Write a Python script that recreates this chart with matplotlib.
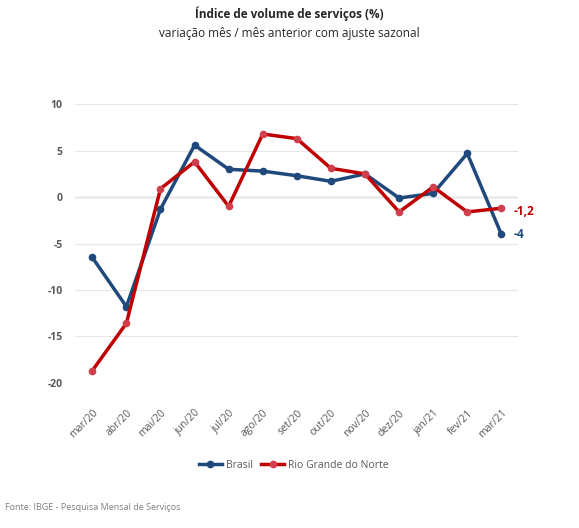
import matplotlib
matplotlib.use("Agg")
import matplotlib.pyplot as plt

plt.rcParams['font.family'] = ['Open Sans', 'DejaVu Sans']
plt.rcParams['axes.unicode_minus'] = False

meses = ["mar/20", "abr/20", "mai/20", "jun/20", "jul/20", "ago/20", "set/20",
         "out/20", "nov/20", "dez/20", "jan/21", "fev/21", "mar/21"]
brasil = [-6.5, -11.8, -1.3, 5.6, 3.0, 2.8, 2.3, 1.7, 2.5, -0.1, 0.4, 4.7, -4.0]
rn = [-18.7, -13.6, 0.9, 3.8, -1.0, 6.8, 6.3, 3.1, 2.5, -1.6, 1.1, -1.6, -1.2]
rotulos = ["-4", "-1,2"]

azul = "#1f497d"
vermelho = "#c00000"

fig = plt.figure(figsize=(5.79, 5.28), dpi=100)
ax = fig.add_axes([75.25 / 579, 1 - 382.7 / 528, (518.4 - 75.25) / 579, (382.7 - 104.3) / 528])

x = list(range(len(meses)))
ax.plot(x, brasil, color=azul, lw=2.5, marker="o", ms=4.5, mfc=azul, mec=azul, label="Brasil", zorder=3)
ax.plot(x, rn, color=vermelho, lw=2.5, marker="o", ms=4.5, mfc="#d0404c", mec="#d0404c",
        label="Rio Grande do Norte", zorder=3)

ax.set_xlim(-0.5, len(meses) - 0.5)
ax.set_ylim(-20, 10)
ax.set_yticks([-20, -15, -10, -5, 0, 5, 10])
ax.set_xticks(x)
ax.set_xticklabels(meses, rotation=45, ha="right", rotation_mode="anchor")
ax.tick_params(length=0, colors="#595959", labelsize=7.5)
ax.tick_params(axis="y", pad=9)
ax.tick_params(axis="x", pad=18)
for lbl in ax.get_yticklabels():
    lbl.set_fontweight("bold")

ax.grid(axis="y", color="#e6e6e6", lw=0.8, zorder=0)
ax.axhline(0, color="#bfbfbf", lw=1, zorder=1)
for s in ax.spines.values():
    s.set_visible(False)

ax.annotate(rotulos[0], (x[-1], brasil[-1]), xytext=(9, 0), textcoords="offset points",
            va="center", color=azul, fontweight="bold", fontsize=8.5)
ax.annotate(rotulos[1], (x[-1], rn[-1]), xytext=(9, -2), textcoords="offset points",
            va="center", color=vermelho, fontweight="bold", fontsize=8.5)

fig.text(0.5, 1 - 14 / 528, "Índice de volume de serviços (%)", ha="center", va="center",
         fontsize=8.5, fontweight="bold", color="#262626")
fig.text(0.5, 1 - 33 / 528, "variação mês / mês anterior com ajuste sazonal", ha="center",
         va="center", fontsize=8.5, color="#262626")

fig.legend(loc="center", bbox_to_anchor=(294 / 579, 1 - 465 / 528), ncol=2, frameon=False,
           fontsize=7.5, labelcolor="#595959", handlelength=2.2, columnspacing=0.8,
           handletextpad=0.4)

fig.text(5 / 579, 1 - 507 / 528, "Fonte: IBGE - Pesquisa Mensal de Serviços", ha="left",
         va="center", fontsize=6.5, color="#7f7f7f")

fig.savefig("out.png", dpi=100)
